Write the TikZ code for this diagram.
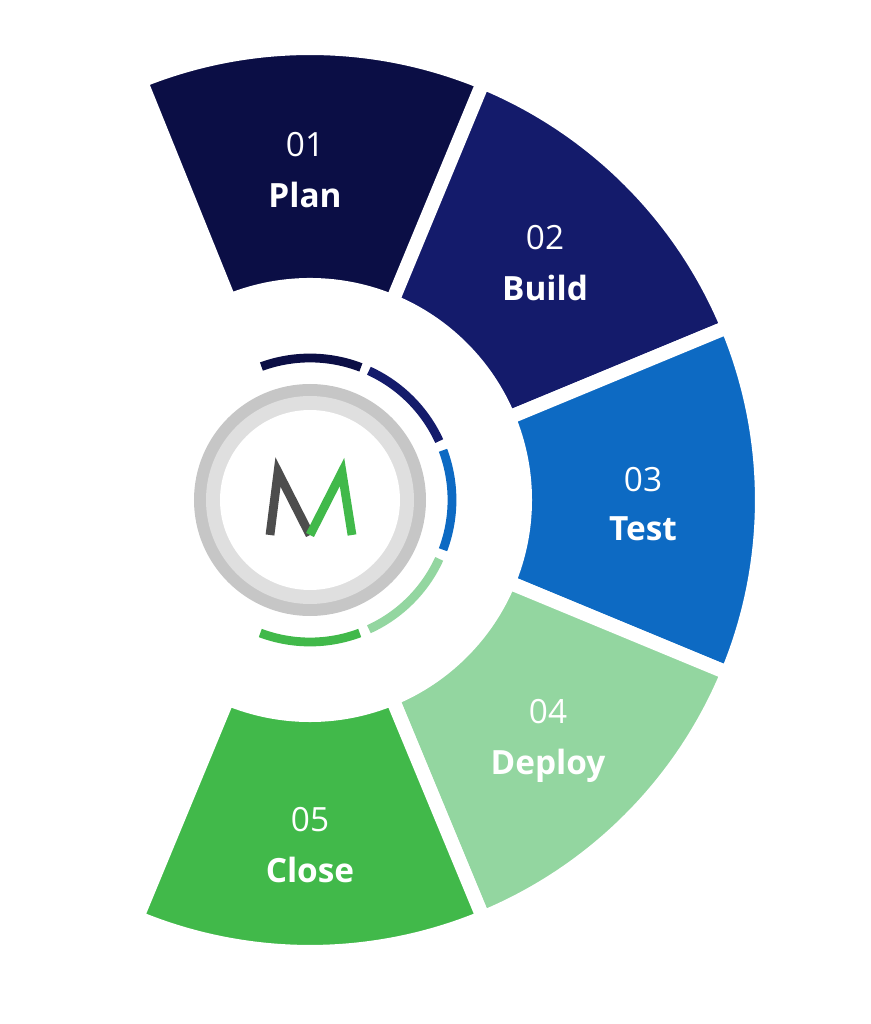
\documentclass[tikz,border=0pt]{standalone}
\usepackage{fontspec}
\setmainfont{Open Sans}
\usetikzlibrary{positioning}
\definecolor{planc}{HTML}{0B0E45}
\definecolor{buildc}{HTML}{141B6B}
\definecolor{testc}{HTML}{0D6AC3}
\definecolor{deployc}{HTML}{93D6A0}
\definecolor{closec}{HTML}{41B94A}
\definecolor{logogray}{HTML}{4D4D4D}
\tikzset{
  seg/.style={fill=#1, draw=white, line width=8},
  num/.style={text=white, font=\fontsize{19}{22}\selectfont},
  phase/.style={text=white, font=\bfseries\fontsize{19}{22}\selectfont},
  tick/.style={draw=#1, line width=5},
}
\begin{document}
\begin{tikzpicture}[x=0.02cm,y=0.02cm]
    \useasboundingbox (-310,-524) rectangle (561,500);
            % Ring segments
            \foreach \a/\c in {112/planc, 67.5/buildc, 22.5/testc, -22.5/deployc, -67.5/closec}{
                \path [seg=\c] (\a:215) -- (\a:452) arc[start angle=\a, delta angle=-45, radius=452]
                    -- ({\a-45}:215) arc[start angle={\a-45}, delta angle=45, radius=215] -- cycle;
            }
            % Inner ticks
            \foreach \a/\c in {112/planc, 67.5/buildc, 22.5/testc, -22.5/deployc, -67.5/closec}{
                \draw [tick=\c] ({\a-2}:142) arc[start angle={\a-2}, delta angle=-41, radius=142];
            }
            % Centre badge
            \fill [gray!45] (0,0) circle (116);
            \fill [gray!25] (0,0) circle (104);
            \fill [white] (0,0) circle (90);
            \draw [logogray, line width=5, line join=miter] (-40,-35) -- (-32,28) -- (0,-35);
            \draw [closec, line width=5, line join=miter] (0,-35) -- (32,28) -- (42,-35);
            % Labels
            \node [num] (n1) at (-5,355) {01};
            \node [phase, below=7pt of n1] (s1) {Plan};
            \node [num] (n2) at (235,262) {02};
            \node [phase, below=7pt of n2] (s2) {Build};
            \node [num] (n3) at (333,20) {03};
            \node [phase, below=7pt of n3] (s3) {Test};
            \node [num] (n4) at (238,-212) {04};
            \node [phase, below=7pt of n4] (s4) {Deploy};
            \node [num] (n5) at (0,-320) {05};
            \node [phase, below=7pt of n5] (s5) {Close};
\end{tikzpicture}
\end{document}
